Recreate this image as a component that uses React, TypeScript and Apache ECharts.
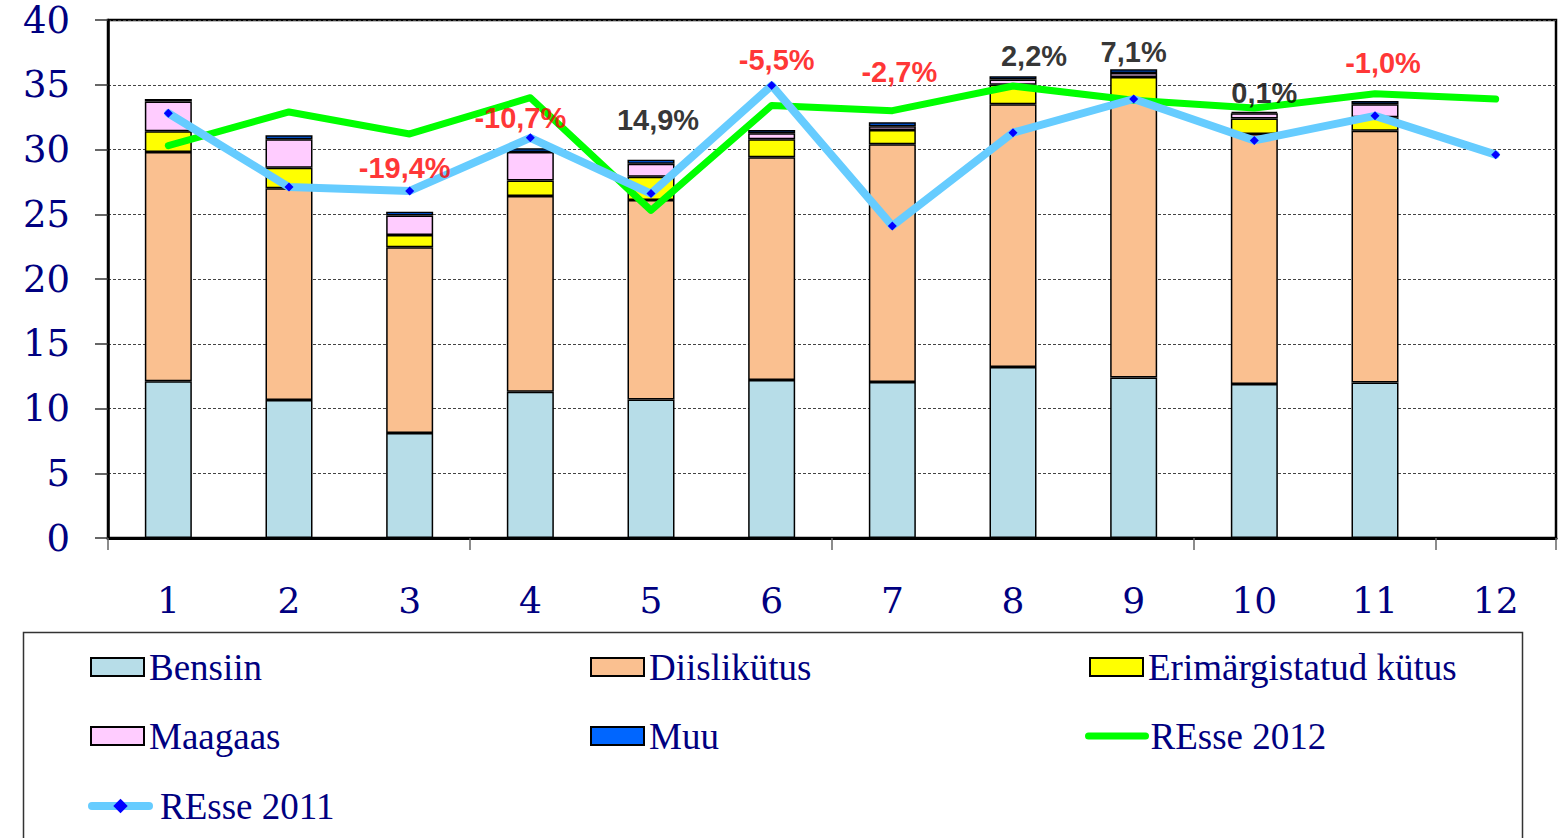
import React, { useEffect, useRef } from "react";
import * as echarts from "echarts";

const months = ["1", "2", "3", "4", "5", "6", "7", "8", "9", "10", "11", "12"];
const bensiin = [12.1, 10.65, 8.1, 11.3, 10.7, 12.2, 12.05, 13.2, 12.4, 11.9, 12.0, null];
const diislikutus = [17.7, 16.35, 14.35, 15.1, 15.4, 17.2, 18.35, 20.3, 21.3, 19.3, 19.45, null];
const erimargistatud = [1.6, 1.6, 0.95, 1.2, 1.8, 1.4, 1.1, 1.5, 1.9, 1.2, 1.05, null];
const maagaas = [2.3, 2.2, 1.5, 2.2, 1.0, 0.45, 0.3, 0.4, 0.3, 0.4, 1.0, null];
const muu = [0.2, 0.3, 0.3, 0.3, 0.3, 0.25, 0.3, 0.25, 0.3, 0.1, 0.25, null];
const resse2012 = [30.3, 32.9, 31.2, 34.0, 25.3, 33.4, 33.0, 34.9, 33.8, 33.2, 34.3, 33.9];
const resse2011 = [32.8, 27.1, 26.8, 30.9, 26.6, 34.95, 24.1, 31.3, 33.9, 30.7, 32.6, 29.6];
const changeLabels = ["", "", "-19,4%", "-10,7%", "14,9%", "-5,5%", "-2,7%", "2,2%", "7,1%", "0,1%", "-1,0%", ""];

// label anchor heights (layout) and horizontal nudges in px
const labelAnchor = [null, null, 28.6, 32.4, 32.3, 36.9, 36.0, 37.2, 37.5, 34.4, 36.7, null];
const labelDx = [0, 0, -5, -10, 7, 5, 7, 21, 0, 10, 8, 0];

const NAVY = "#000080";

export default function App() {
  const ref = useRef<HTMLDivElement>(null);

  useEffect(() => {
    if (!ref.current) return;
    const chart = echarts.init(ref.current, null, { renderer: "svg" });

    const barBase = (name: string, data: (number | null)[], color: string) => ({
      name,
      type: "bar",
      stack: "total",
      data,
      barWidth: 47,
      itemStyle: { color, borderColor: "#000", borderWidth: 1.5 },
      z: 2,
    });

    const legendFont = { fontFamily: "Liberation Serif", fontSize: 37, color: NAVY, lineHeight: 40 };
    const legendItems = [
      { name: "Bensiin", left: 90, top: 647 },
      { name: "Diislikütus", left: 590, top: 647 },
      { name: "Erimärgistatud kütus", left: 1089, top: 647 },
      { name: "Maagaas", left: 90, top: 716 },
      { name: "Muu", left: 590, top: 716 },
      { name: "REsse 2012", left: 1085, top: 716 },
      { name: "REsse 2011", left: 88, top: 786 },
    ];

    const legends = legendItems.map((it) => {
      const base: any = {
        data: it.name.startsWith("REsse") ? [it.name] : [{ name: it.name, icon: "rect" }],
        left: it.left,
        top: it.top,
        padding: 0,
        itemWidth: 53,
        itemHeight: 18,
        textStyle: legendFont,
      };
      if (it.name === "REsse 2012") {
        base.itemWidth = 57;
        base.lineStyle = { width: 7, cap: "round" };
        base.itemStyle = { color: "rgba(0,0,0,0)", borderWidth: 0, opacity: 0 };
      }
      if (it.name === "REsse 2011") {
        base.itemWidth = 57;
        base.lineStyle = { width: 8, cap: "round" };
        base.textStyle = { ...legendFont, padding: [0, 0, 0, 6] };
      }
      return base;
    });

    const option: any = {
      animation: false,
      backgroundColor: "#fff",
      grid: {
        left: 108,
        right: 2,
        top: 20,
        bottom: 300,
        show: true,
        borderColor: "#000",
        borderWidth: 2.5,
      },
      xAxis: {
        type: "category",
        data: months,
        boundaryGap: true,
        axisLine: { show: true, lineStyle: { color: "#000", width: 3 } },
        axisTick: { show: true, interval: 2, length: 12, lineStyle: { color: "#666", width: 1.5 } },
        axisLabel: {
          interval: 0,
          margin: 44,
          fontFamily: "DejaVu Serif",
          fontSize: 36,
          color: NAVY,
        },
        splitLine: { show: false },
      },
      yAxis: {
        type: "value",
        min: 0,
        max: 40,
        interval: 5,
        axisLine: { show: true, lineStyle: { color: "#000", width: 2.5 } },
        axisTick: { show: true, length: 13, lineStyle: { color: "#333", width: 1.5 } },
        axisLabel: {
          margin: 38,
          fontFamily: "DejaVu Serif",
          fontSize: 37,
          color: NAVY,
        },
        splitLine: { show: true, lineStyle: { color: "#444", type: [3, 2], width: 1 } },
      },
      legend: legends,
      graphic: [
        {
          type: "rect",
          shape: { x: 23.5, y: 632.5, width: 1499, height: 230 },
          style: { fill: "none", stroke: "#333", lineWidth: 1.5 },
          z: 0,
        },
      ],
      series: [
        barBase("Bensiin", bensiin, "#b7dde8"),
        barBase("Diislikütus", diislikutus, "#fac090"),
        barBase("Erimärgistatud kütus", erimargistatud, "#ffff00"),
        barBase("Maagaas", maagaas, "#ffccff"),
        barBase("Muu", muu, "#0066ff"),
        {
          name: "REsse 2012",
          type: "line",
          data: resse2012,
          symbol: "none",
          itemStyle: { color: "#00ff00" },
          lineStyle: { color: "#00ff00", width: 7, cap: "round", join: "round" },
          z: 3,
        },
        {
          name: "REsse 2011",
          type: "line",
          data: resse2011,
          symbol: "diamond",
          symbolSize: 9,
          showSymbol: true,
          itemStyle: { color: "#0000ff", borderWidth: 0 },
          lineStyle: { color: "#66ccff", width: 8, cap: "round", join: "round" },
          z: 4,
        },
        {
          name: "changes",
          type: "scatter",
          data: labelAnchor.map((v, i) => ({
            value: v,
            label: {
              show: v !== null,
              offset: [labelDx[i], 0],
              color: changeLabels[i].startsWith("-") ? "#ff0000" : "#000000",
            },
          })),
          symbolSize: 0,
          silent: true,
          label: {
            show: true,
            position: "inside",
            formatter: (p: any) => changeLabels[p.dataIndex],
            fontFamily: "Liberation Sans",
            fontWeight: "bold",
            fontSize: 29,
          },
          z: 6,
        },
      ],
    };

    chart.setOption(option);
    return () => chart.dispose();
  }, []);

  return (
    <div
      ref={ref}
      style={{ position: "absolute", left: 0, top: 0, width: 1558, height: 838, background: "#fff" }}
    />
  );
}
